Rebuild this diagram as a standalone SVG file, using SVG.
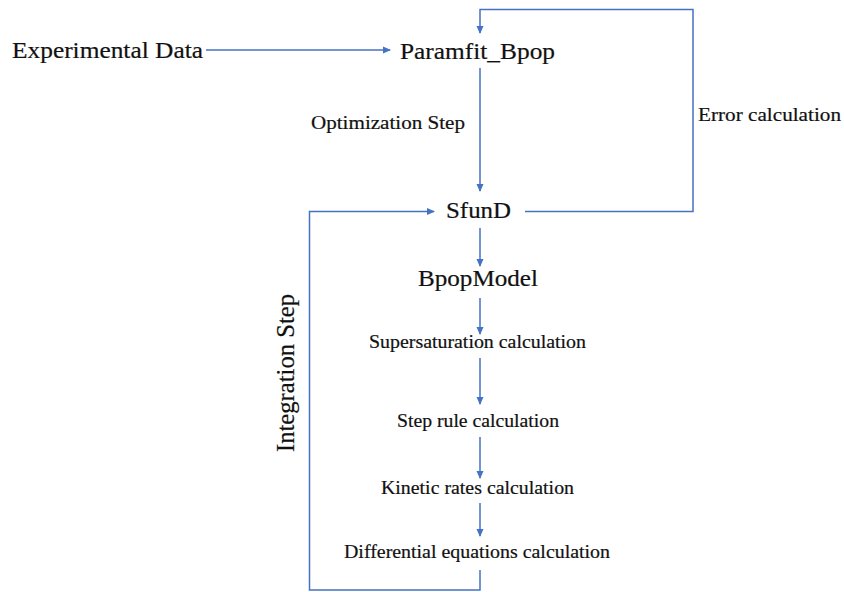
<svg xmlns="http://www.w3.org/2000/svg" width="844" height="592" viewBox="0 0 844 592">
<defs>
<marker id="ah" markerWidth="8" markerHeight="8" refX="7" refY="4" orient="auto" markerUnits="userSpaceOnUse">
<path d="M0,0.5 L8,4 L0,7.5 Z" fill="#4472C4"/>
</marker>
<style>
.c{fill:none;stroke:#4472C4;stroke-width:1.5}
text{font-family:'Liberation Serif','Times New Roman',serif;fill:#111111;stroke:#111111;stroke-width:0.2}
.big{font-size:23px}
.sm{font-size:19px}
</style>
</defs>
<rect width="844" height="592" fill="#ffffff"/>
<g id="connectors">
<path class="c" d="M206,50 L390,50" marker-end="url(#ah)"/>
<path class="c" d="M480,68 L480,191" marker-end="url(#ah)"/>
<path class="c" d="M525,211.5 L693,211.5 L693,9.5 L480,9.5 L480,33" marker-end="url(#ah)"/>
<path class="c" d="M480,570 L480,590 L309.5,590 L309.5,211.5 L434,211.5" marker-end="url(#ah)"/>
<path class="c" d="M480,228 L480,266" marker-end="url(#ah)"/>
<path class="c" d="M480,298 L480,334" marker-end="url(#ah)"/>
<path class="c" d="M480,358 L480,404" marker-end="url(#ah)"/>
<path class="c" d="M480,437 L480,478" marker-end="url(#ah)"/>
<path class="c" d="M480,503 L480,536" marker-end="url(#ah)"/>
</g>
<g id="experimental-data"><text class="big" x="12" y="58" textLength="191" lengthAdjust="spacingAndGlyphs">Experimental Data</text></g>
<g id="paramfit-bpop"><text class="big" x="400" y="59" textLength="155" lengthAdjust="spacingAndGlyphs">Paramfit_Bpop</text></g>
<g id="optimization-step"><text class="sm" x="311" y="129" textLength="154" lengthAdjust="spacingAndGlyphs">Optimization Step</text></g>
<g id="error-calculation"><text class="sm" x="698" y="121" textLength="143" lengthAdjust="spacingAndGlyphs">Error calculation</text></g>
<g id="sfund"><text class="big" x="446" y="218" textLength="65" lengthAdjust="spacingAndGlyphs">SfunD</text></g>
<g id="bpopmodel"><text class="big" x="418" y="286" textLength="120" lengthAdjust="spacingAndGlyphs">BpopModel</text></g>
<g id="integration-step"><text class="big" transform="translate(294,373) rotate(-90)" x="0" y="0" text-anchor="middle" style="font-size:26px" textLength="158" lengthAdjust="spacingAndGlyphs">Integration Step</text></g>
<g id="supersaturation"><text class="sm" x="369" y="348" textLength="217" lengthAdjust="spacingAndGlyphs">Supersaturation calculation</text></g>
<g id="step-rule"><text class="sm" x="397" y="427" textLength="162" lengthAdjust="spacingAndGlyphs">Step rule calculation</text></g>
<g id="kinetic-rates"><text class="sm" x="381" y="494" textLength="193" lengthAdjust="spacingAndGlyphs">Kinetic rates calculation</text></g>
<g id="differential-equations"><text class="sm" x="344" y="558" textLength="266" lengthAdjust="spacingAndGlyphs">Differential equations calculation</text></g>
</svg>
